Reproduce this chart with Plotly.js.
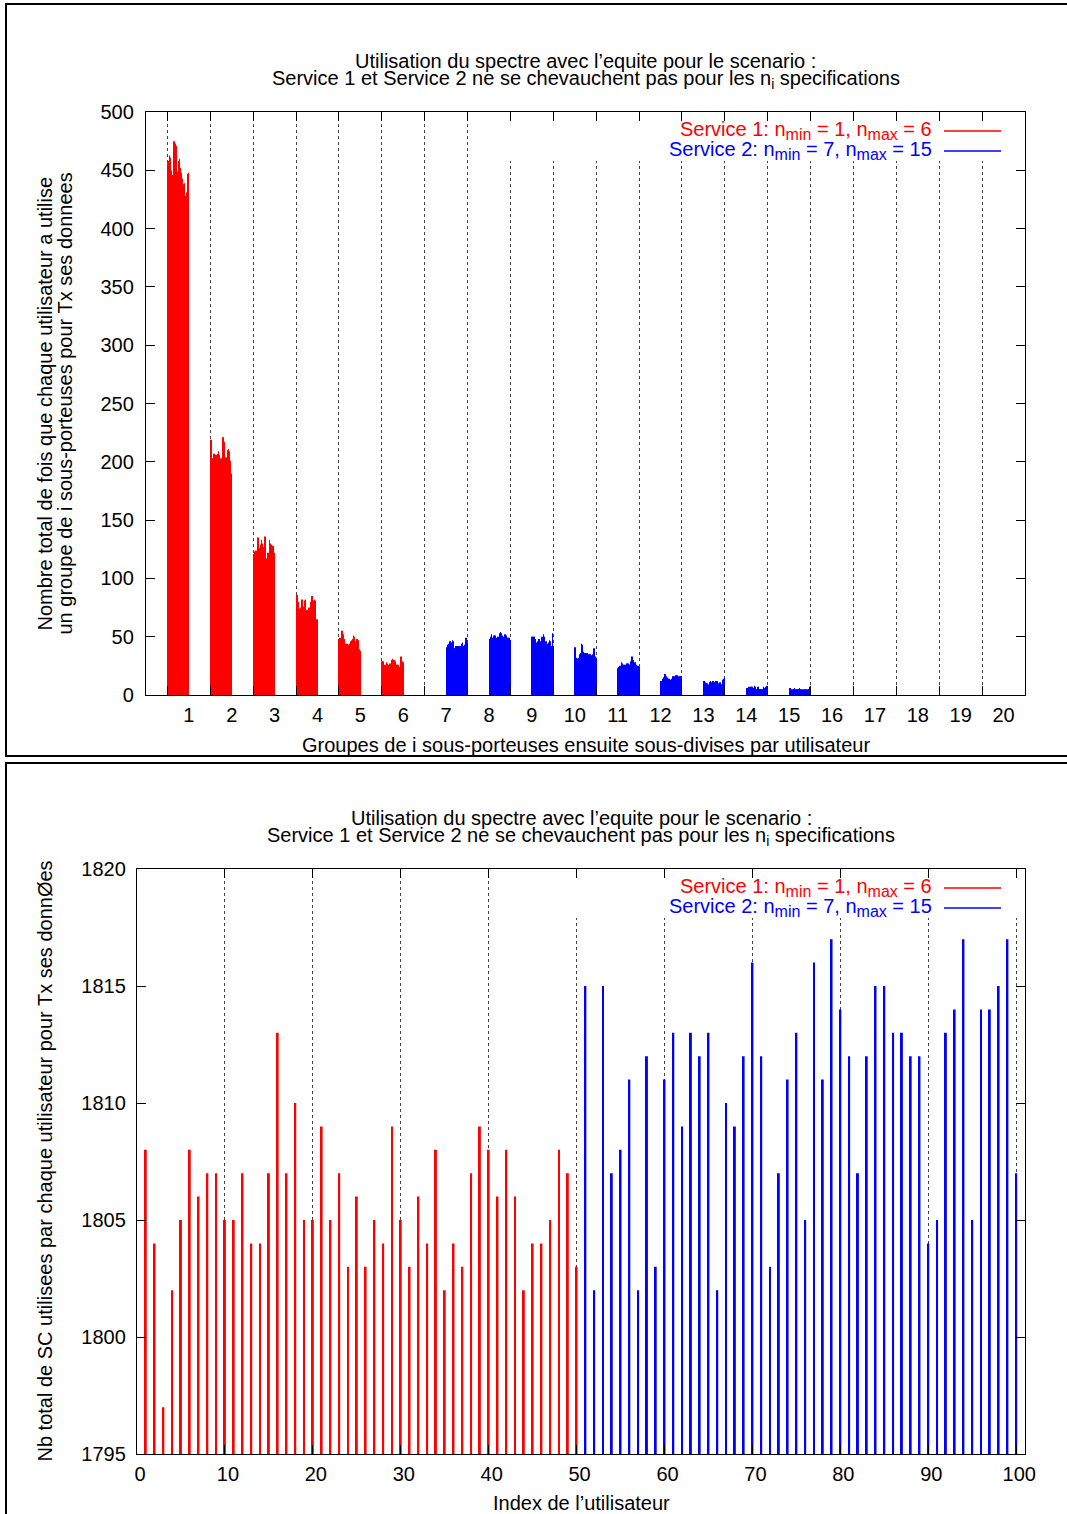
<!DOCTYPE html>
<html>
<head>
<meta charset="utf-8">
<script src="https://cdn.plot.ly/plotly-3.0.1.min.js"></script>
<style>
  html, body { margin:0; padding:0; background:#fff; }
  body { width:1067px; height:1514px; position:relative; overflow:hidden; }
  #c1 { position:absolute; left:0; top:0; width:1067px; height:760px; }
  #c2 { position:absolute; left:0; top:760px; width:1067px; height:754px; }
  .frame { position:absolute; border:2.5px solid #000; box-sizing:border-box; pointer-events:none; z-index:10; }
</style>
</head>
<body>
<div id="c1"></div>
<div id="c2"></div>
<div class="frame" style="left:5px; top:3px; width:1100px; height:754px;"></div>
<div class="frame" style="left:5px; top:762px; width:1100px; height:800px;"></div>
<script>
// ---------------- DATA ----------------
// Top chart: count of times each user used a group of i sub-carriers (50 users per service)
const groupLabels = ['1','2','3','4','5','6','7','8','9','10','11','12','13','14','15','16','17','18','19','20'];
const groupNumbers = [1,2,3,4,5,6,7,8,9,10,11,12,13,14,15,16,17,18,19,20];
const service1GroupIds = [1,2,3,4,5,6];
const service2GroupIds = [7,8,9,10,11,12,13,14,15];

const g1 = [452,456,449,458,463,461,455,449,447,450,446,443,439,444,472,475,474,470,473,471,466,441,448,449,446,450,458,460,455,452,449,447,448,441,443,440,437,438,436,439,427,426,428,425,429,431,430,447,448,446];
const g2 = [214,219,217,203,200,197,199,206,207,204,206,205,203,206,204,205,207,206,208,209,206,205,202,203,201,203,198,193,196,221,218,216,217,215,203,202,204,201,203,202,204,210,211,209,207,200,199,201,190,188];
const g3 = [121,120,122,121,123,124,122,123,124,122,124,135,134,125,126,124,127,126,129,133,130,128,127,124,126,125,127,136,135,116,115,117,116,121,122,120,121,133,132,130,128,127,129,127,127,126,128,121,122,120];
const g4 = [55,68,86,84,80,72,73,71,74,71,75,73,81,82,80,79,74,75,76,81,80,82,79,72,71,73,72,71,72,74,75,73,74,76,80,81,79,85,84,76,75,81,80,82,81,80,65,64,64,65];
const g5 = [48,47,49,46,47,48,46,55,54,52,49,47,48,46,44,43,44,42,43,44,43,43,42,43,42,44,43,45,46,44,47,46,48,47,51,50,49,45,46,45,44,47,48,46,47,38,39,38,39,38];
const g6 = [29,28,29,23,22,24,23,26,25,24,28,24,22,27,25,24,26,25,26,27,25,26,30,29,30,31,30,29,30,28,29,28,27,26,25,26,25,26,24,25,24,23,24,25,33,32,31,28,29,28];
const g7 = [41,40,42,41,43,44,42,45,46,44,45,44,42,45,47,46,41,40,40,39,40,39,42,41,42,42,41,42,41,41,42,41,42,42,41,42,44,45,43,41,42,41,42,43,44,43,49,48,45,44];
const g8 = [48,47,48,47,50,52,49,47,48,47,46,51,50,51,48,47,48,47,49,46,50,48,44,47,48,53,54,53,52,51,50,51,50,47,48,47,52,51,52,51,47,44,48,47,49,48,49,48,47,47];
const g9 = [50,49,50,49,50,48,50,47,48,44,45,43,37,45,46,47,48,46,46,45,42,43,50,49,50,49,52,51,50,45,46,45,44,46,44,42,43,44,45,44,43,47,46,44,41,42,41,53,50,42];
const g10 = [41,40,30,31,32,31,30,31,30,32,31,35,34,36,35,44,42,43,38,36,37,35,36,35,36,35,36,35,36,33,32,26,33,35,34,35,35,33,32,33,34,35,34,35,40,38,33,32,33,32];
const g11 = [23,22,23,24,24,25,24,23,24,28,27,25,26,24,25,26,24,25,26,25,24,27,26,27,27,25,26,25,26,28,29,28,27,33,31,30,25,26,25,27,28,27,26,24,25,24,25,24,25,24];
const g12 = [11,12,11,12,13,14,15,14,15,18,18,17,16,15,14,15,14,14,13,14,13,13,12,13,12,14,13,14,16,15,16,16,14,13,14,13,17,16,17,16,15,16,15,15,16,16,15,16,16,15];
const g13 = [11,12,11,10,11,9,10,9,10,9,8,8,9,8,11,11,12,11,9,8,9,11,12,11,11,9,8,8,9,12,11,12,11,8,9,8,10,11,10,11,9,9,8,9,12,13,12,14,15,14];
const g14 = [5,6,5,5,6,6,7,6,5,7,6,7,6,7,6,5,6,5,7,8,7,6,5,5,4,6,6,7,6,5,4,5,5,4,5,4,5,5,4,5,7,6,5,6,6,7,8,7,6,5];
const g15 = [6,5,6,4,5,4,4,5,4,5,5,5,6,5,4,4,5,4,5,4,5,5,4,6,5,4,5,5,4,4,4,5,4,5,4,4,5,5,4,5,4,4,5,4,5,4,5,6,7,6];

// Bottom chart: total number of sub-carriers used by each user (users 1-50 service 1, 51-100 service 2)
const service1Totals = [1808,1804,1797,1802,1805,1808,1806,1807,1807,1805,1805,1807,1804,1804,1807,1813,1807,1810,1805,1805,1809,1805,1807,1803,1806,1803,1805,1804,1809,1805,1803,1806,1804,1808,1802,1804,1803,1807,1809,1808,1806,1808,1806,1802,1804,1804,1805,1808,1807,1803];
const service2Totals = [1815,1802,1815,1807,1808,1811,1802,1812,1803,1811,1813,1809,1813,1812,1813,1802,1810,1809,1812,1816,1812,1803,1807,1811,1813,1805,1816,1811,1817,1814,1812,1807,1812,1815,1815,1813,1813,1812,1812,1804,1805,1813,1814,1817,1805,1814,1814,1815,1817,1807];

const SUB = s => '<sub><span style="font-size:16px">' + s + '</span></sub>';
const legend1 = 'Service 1: n' + SUB('min') + ' = 1, n' + SUB('max') + ' = 6';
const legend2 = 'Service 2: n' + SUB('min') + ' = 7, n' + SUB('max') + ' = 15';
const titleLine1 = 'Utilisation du spectre avec l’equite pour le scenario :';
const titleLine2 = 'Service 1 et Service 2 ne se chevauchent pas pour les n<sub>i</sub> specifications';

// ---------------- BUILD ----------------
const FONT = 'Liberation Sans, Arial, Helvetica, sans-serif';
const RED = '#ff0000', BLUE = '#0000ff';
const s1Groups = [g1,g2,g3,g4,g5,g6];
const s2Groups = [g7,g8,g9,g10,g11,g12,g13,g14,g15];
const nUsers = service1Totals.length + service2Totals.length; // 100 users share each group slot
const slot = 1 / nUsers;

// user u (1..100) of group g is drawn at g - 0.5 + (u - 0.5)/100
function groupTrace(ids, arrays, firstUser, color, name) {
  const x = [], y = [];
  ids.forEach((g, gi) => {
    arrays[gi].forEach((v, k) => { x.push(g - 0.5 + (firstUser + k - 0.5) * slot); y.push(v); });
  });
  return { type:'bar', x, y, width: slot, name, marker:{ color, line:{ width:0 } }, hoverinfo:'x+y' };
}

const groupBounds = groupNumbers.map(g => g - 0.5);

function axisCommon() {
  return {
    showline:true, linecolor:'#000', linewidth:1.3, mirror:'ticks',
    zeroline:false, ticks:'inside', ticklen:9, tickwidth:1.2, tickcolor:'#000',
    tickfont:{ family:FONT, size:20, color:'#000' }, fixedrange:true
  };
}

function titleAnns(plotHpx) {
  return [
    { text:titleLine1, xref:'paper', yref:'paper', x:0.5, y:1 + 51/plotHpx, xanchor:'center', yanchor:'middle', showarrow:false, font:{family:FONT, size:20, color:'#000'} },
    { text:titleLine2, xref:'paper', yref:'paper', x:0.5, y:1 + 32/plotHpx, xanchor:'center', yanchor:'middle', showarrow:false, font:{family:FONT, size:20, color:'#000'} }
  ];
}

function legendParts(plotWpx, plotHpx) {
  const anns = [
    { text:legend1, xref:'paper', yref:'paper', x:1 - 91/plotWpx, y:1 - 18/plotHpx, xanchor:'right', yanchor:'middle', showarrow:false, font:{family:FONT, size:20, color:RED} },
    { text:legend2, xref:'paper', yref:'paper', x:1 - 91/plotWpx, y:1 - 38/plotHpx, xanchor:'right', yanchor:'middle', showarrow:false, font:{family:FONT, size:20, color:BLUE} }
  ];
  const shapes = [
    // white key box hiding the grid behind the key (no data lies there)
    { type:'rect', xref:'paper', yref:'paper', x0:1 - 520/plotWpx, x1:1 - 2/plotWpx, y0:1 - 49/plotHpx, y1:1 - 10/plotHpx, fillcolor:'#fff', line:{width:0}, layer:'above' },
    { type:'line', xref:'paper', yref:'paper', x0:1 - 81/plotWpx, x1:1 - 24/plotWpx, y0:1 - 19/plotHpx, y1:1 - 19/plotHpx, line:{color:RED, width:1.3}, layer:'above' },
    { type:'line', xref:'paper', yref:'paper', x0:1 - 81/plotWpx, x1:1 - 24/plotWpx, y0:1 - 39/plotHpx, y1:1 - 39/plotHpx, line:{color:BLUE, width:1.3}, layer:'above' }
  ];
  return { anns, shapes };
}

// ---- Chart 1 ----
const W1 = 879, H1 = 583;
const lp1 = legendParts(W1, H1);
const layout1 = {
  width:1067, height:760, margin:{l:146, r:42, t:112, b:65},
  paper_bgcolor:'#fff', plot_bgcolor:'#fff', showlegend:false, barmode:'overlay',
  font:{family:FONT, size:20, color:'#000'},
  xaxis: Object.assign(axisCommon(), {
    range:[0, 20.5], tickmode:'array', tickvals:groupNumbers, ticktext:groupLabels, ticks:'', showgrid:false,
    ticklabelstandoff:2,
    minor:{ tickmode:'array', tickvals:groupBounds, ticks:'inside', ticklen:9, tickwidth:1.2, tickcolor:'#000',
            showgrid:true, gridcolor:'#444', griddash:'dot', gridwidth:1 }
  }),
  yaxis: Object.assign(axisCommon(), { range:[0, 500], dtick:50, tick0:0, showgrid:false, ticklabelstandoff:7 }),
  annotations: titleAnns(H1).concat(lp1.anns).concat([
    { text:'Nombre total de fois que chaque utilisateur a utilise', xref:'paper', yref:'paper', x:-(146-44)/W1, y:0.5, xanchor:'center', yanchor:'middle', textangle:-90, showarrow:false, font:{family:FONT, size:20} },
    { text:'un groupe de i sous-porteuses pour Tx ses donnees', xref:'paper', yref:'paper', x:-(146-64)/W1, y:0.5, xanchor:'center', yanchor:'middle', textangle:-90, showarrow:false, font:{family:FONT, size:20} },
    { text:'Groupes de i sous-porteuses ensuite sous-divises par utilisateur', xref:'paper', yref:'paper', x:0.5, y:-50/H1, xanchor:'center', yanchor:'middle', showarrow:false, font:{family:FONT, size:20} }
  ]),
  shapes: lp1.shapes
};
const data1 = [
  groupTrace(service1GroupIds, s1Groups, 1, RED, 'Service 1'),
  groupTrace(service2GroupIds, s2Groups, service1Totals.length + 1, BLUE, 'Service 2')
];
Plotly.newPlot('c1', data1, layout1, {displayModeBar:false});

// ---- Chart 2 ----
const W2 = 888, H2 = 585;
const lp2 = legendParts(W2, H2);
const users1 = service1Totals.map((_, i) => i + 1);
const users2 = service2Totals.map((_, i) => i + 1 + service1Totals.length);
const layout2 = {
  width:1067, height:754, margin:{l:137, r:42, t:109, b:60},
  paper_bgcolor:'#fff', plot_bgcolor:'#fff', showlegend:false, barmode:'overlay',
  font:{family:FONT, size:20, color:'#000'},
  xaxis: Object.assign(axisCommon(), {
    range:[0, 101], dtick:10, tick0:0, showgrid:true, gridcolor:'#444', griddash:'dot', gridwidth:1,
    ticklabelstandoff:2, ticklabelshift:3
  }),
  yaxis: Object.assign(axisCommon(), { range:[1795, 1820], dtick:5, tick0:1795, showgrid:false, ticklabelstandoff:6 }),
  annotations: titleAnns(H2).concat(lp2.anns).concat([
    { text:'Nb total de SC utilisees par chaque utilisateur pour Tx ses donnØes', xref:'paper', yref:'paper', x:-(137-44)/W2, y:0.5, xanchor:'center', yanchor:'middle', textangle:-90, showarrow:false, font:{family:FONT, size:20} },
    { text:'Index de l’utilisateur', xref:'paper', yref:'paper', x:0.5, y:-49/H2, xanchor:'center', yanchor:'middle', showarrow:false, font:{family:FONT, size:20} }
  ]),
  shapes: lp2.shapes
};
const data2 = [
  { type:'bar', x:users1, y:service1Totals, width:0.22, name:'Service 1', marker:{color:RED, line:{width:0}} },
  { type:'bar', x:users2, y:service2Totals, width:0.22, name:'Service 2', marker:{color:BLUE, line:{width:0}} }
];
Plotly.newPlot('c2', data2, layout2, {displayModeBar:false});
</script>
</body>
</html>
